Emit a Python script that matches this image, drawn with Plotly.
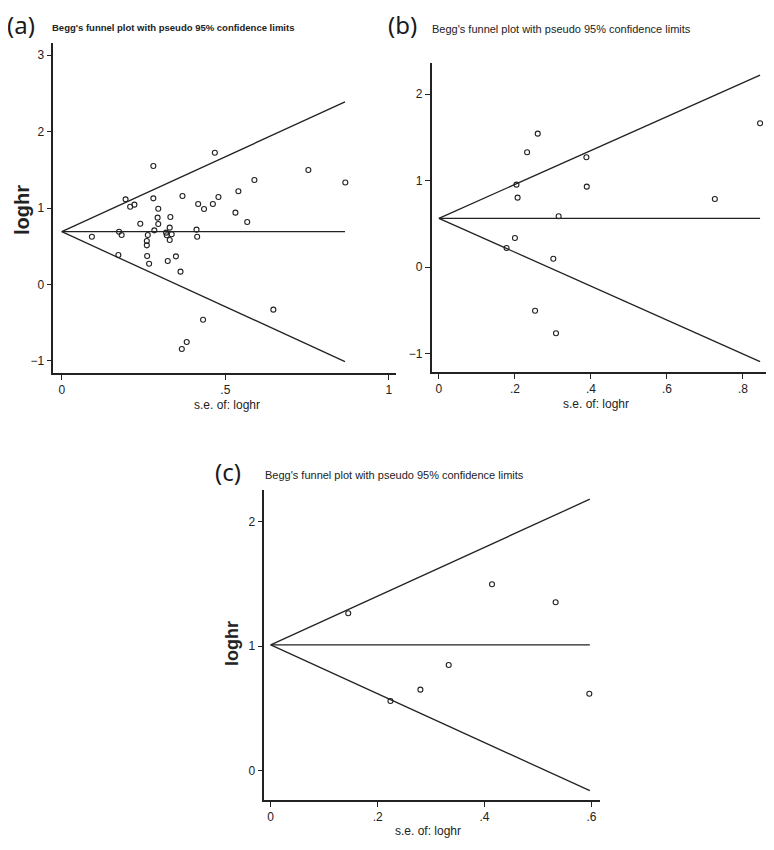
import plotly.graph_objects as go

# panel (a): s.e. of loghr / loghr
se_a = [0.092, 0.175, 0.183, 0.173, 0.195, 0.209, 0.222, 0.240, 0.280, 0.295,
        0.293, 0.295, 0.283, 0.263, 0.260, 0.260, 0.261, 0.267, 0.319, 0.321,
        0.330, 0.332, 0.336, 0.330, 0.324, 0.349, 0.363, 0.369, 0.412, 0.414,
        0.417, 0.435, 0.462, 0.479, 0.540, 0.531, 0.567, 0.432, 0.367, 0.382,
        0.647, 0.867, 0.280, 0.468, 0.754, 0.589]
loghr_a = [0.625, 0.690, 0.647, 0.386, 1.113, 1.017, 1.044, 0.795, 1.126, 0.991,
           0.874, 0.791, 0.708, 0.647, 0.569, 0.512, 0.373, 0.272, 0.678, 0.643,
           0.743, 0.882, 0.656, 0.582, 0.307, 0.368, 0.168, 1.157, 0.717, 0.625,
           1.052, 0.987, 1.052, 1.144, 1.218, 0.939, 0.817, -0.460, -0.843, -0.752,
           -0.329, 1.334, 1.549, 1.723, 1.497, 1.366]
pooled_a = 0.69
se_max_a = 0.866

# panel (b)
se_b = [0.260, 0.232, 0.388, 0.845, 0.204, 0.389, 0.207, 0.726, 0.315, 0.200,
        0.178, 0.301, 0.253, 0.308]
loghr_b = [1.545, 1.329, 1.272, 1.665, 0.955, 0.932, 0.805, 0.790, 0.590, 0.339,
           0.223, 0.099, -0.502, -0.763]
pooled_b = 0.566
se_max_b = 0.845

# panel (c)
se_c = [0.145, 0.224, 0.280, 0.333, 0.414, 0.533, 0.596]
loghr_c = [1.264, 0.560, 0.651, 0.849, 1.497, 1.353, 0.618]
pooled_c = 1.01
se_max_c = 0.597

ticks_a_x = [0, 0.5, 1]
ticks_a_x_text = ["0", ".5", "1"]
ticks_a_y = [-1, 0, 1, 2, 3]
ticks_b_x = [0, 0.2, 0.4, 0.6, 0.8]
ticks_b_x_text = ["0", ".2", ".4", ".6", ".8"]
ticks_b_y = [-1, 0, 1, 2]
ticks_c_x = [0, 0.2, 0.4, 0.6]
ticks_c_x_text = ["0", ".2", ".4", ".6"]
ticks_c_y = [0, 1, 2]

title_text = "Begg's funnel plot with pseudo 95% confidence limits"
NARROW = "Liberation Sans Narrow, Arial Narrow, Liberation Sans, sans-serif"

# the page body has an 8px margin, so the figure sits at (8, 8) in the window
OFF = 8
W, H = 774 - OFF, 850 - OFF


def fx(px):
    return (px - OFF) / W


def fy(py):
    return 1 - (py - OFF) / H


panels = [
    # suffix, se, loghr, pooled, se_max, plot box in window px (x0, x1, ytop, ybottom), ranges
    ("", se_a, loghr_a, pooled_a, se_max_a, (53.3, 396, 43, 373),
     [-0.026, 1.022], [-1.157, 3.157], ticks_a_x, ticks_a_x_text, ticks_a_y),
    ("2", se_b, loghr_b, pooled_b, se_max_b, (431.7, 767.3, 63.3, 372.3),
     [-0.019, 0.864], [-1.214, 2.358], ticks_b_x, ticks_b_x_text, ticks_b_y),
    ("3", se_c, loghr_c, pooled_c, se_max_c, (264.3, 600, 490, 800),
     [-0.012, 0.616], [-0.235, 2.254], ticks_c_x, ticks_c_x_text, ticks_c_y),
]

fig = go.Figure()
layout = {}

for sfx, se, lh, pooled, se_max, box, xr, yr, xt, xtt, yt in panels:
    xa, ya = "x" + sfx, "y" + sfx
    se_line = [0, se_max]
    upper = [pooled, pooled + 1.96 * se_max]
    lower = [pooled, pooled - 1.96 * se_max]
    for yy in (upper, [pooled, pooled], lower):
        fig.add_trace(go.Scatter(x=se_line, y=yy, mode="lines",
                                 line={"color": "#222", "width": 1.3},
                                 xaxis=xa, yaxis=ya, showlegend=False,
                                 hoverinfo="skip"))
    fig.add_trace(go.Scatter(x=se, y=lh, mode="markers",
                             marker={"symbol": "circle-open", "size": 5,
                                     "color": "#222", "line": {"width": 1.1}},
                             xaxis=xa, yaxis=ya, showlegend=False))
    x0, x1, yt0, yb0 = box
    common = dict(showgrid=False, zeroline=False, showline=True,
                  linecolor="#222", linewidth=1.5, ticks="outside",
                  ticklen=5, tickwidth=1.2, tickcolor="#222",
                  tickfont={"family": NARROW, "size": 12, "color": "#222"})
    layout["xaxis" + sfx] = dict(domain=[fx(x0), fx(x1)], range=xr,
                                 anchor=ya, tickvals=xt, ticktext=xtt, **common)
    layout["yaxis" + sfx] = dict(domain=[fy(yb0), fy(yt0)], range=yr,
                                 anchor=xa, tickvals=yt, tickangle=0, **common)

annotations = []


def add_text(text, x, y, size, family, angle=0, color="#222", xanchor="center"):
    annotations.append(dict(text=text, x=fx(x), y=fy(y), xref="paper",
                            yref="paper", showarrow=False, textangle=angle,
                            xanchor=xanchor, yanchor="middle",
                            font={"size": size, "family": family, "color": color}))


# panel letters
add_text("(a)", 5, 25, 24, "Noto Sans", xanchor="left", color="#1a1a1a")
add_text("(b)", 386, 25, 24, "Noto Sans", xanchor="left", color="#1a1a1a")
add_text("(c)", 213, 472, 24, "Noto Sans", xanchor="left", color="#1a1a1a")
# titles
add_text("<b>" + title_text + "</b>", 50, 28, 9.5, NARROW, xanchor="left")
add_text(title_text, 430, 29, 11, NARROW, xanchor="left")
add_text(title_text, 263, 475, 11, NARROW, xanchor="left")
# axis titles
add_text("<b>loghr</b>", 22, 210, 20, "Liberation Sans", angle=-90)
add_text("<b>loghr</b>", 232, 644, 18, "Liberation Sans", angle=-90)
add_text("s.e. of: loghr", 227, 405, 12, NARROW)
add_text("s.e. of: loghr", 596, 404, 12, NARROW)
add_text("s.e. of: loghr", 428, 831, 12, NARROW)

fig.update_layout(width=W, height=H, margin={"l": 0, "r": 0, "t": 0, "b": 0},
                  paper_bgcolor="white", plot_bgcolor="white",
                  annotations=annotations, **layout)

fig.write_html("out.html")
